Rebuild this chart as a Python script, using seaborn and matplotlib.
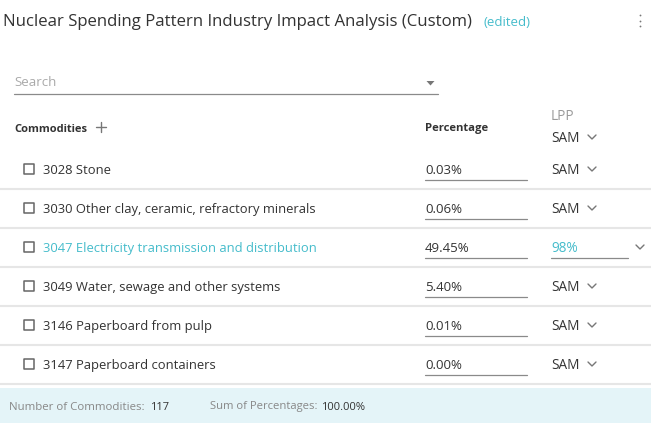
import seaborn as sns
import matplotlib.pyplot as plt
from matplotlib.patches import Rectangle

# table contents
commodities = [
    "3028 Stone",
    "3030 Other clay, ceramic, refractory minerals",
    "3047 Electricity transmission and distribution",
    "3049 Water, sewage and other systems",
    "3146 Paperboard from pulp",
    "3147 Paperboard containers",
]
percentages = [0.03, 0.06, 49.45, 5.40, 0.01, 0.00]
lpp_values = ["SAM", "SAM", "98%", "SAM", "SAM", "SAM"]
highlighted = [False, False, True, False, False, False]
n_commodities = 117
sum_percentages = 100.00

title = "Nuclear Spending Pattern Industry Impact Analysis (Custom)"

sns.set_theme(style="white")
plt.rcParams['font.family'] = ['Open Sans', 'DejaVu Sans']

TEAL = "#45bccb"
DARK = "#333333"
GREY = "#9a9a9a"
LINE = "#e6e6e6"

fig = plt.figure(figsize=(6.51, 4.23), dpi=100)
ax = fig.add_axes([0, 0, 1, 1])
ax.set_xlim(0, 651)
ax.set_ylim(423, 0)
ax.axis("off")

# header
ax.text(3, 22, title, fontsize=12.1, color=DARK, va="center")
ax.text(483, 22, "(edited)", fontsize=9.5, color=TEAL, va="center")
for yy in (15.5, 21, 26.5):
    ax.plot(640, yy, "o", ms=1.3, mew=0, color="#777777")

# search box
ax.text(14, 83, "Search", fontsize=9.6, color="#aaaaaa", va="center")
ax.plot([14, 438], [94.5, 94.5], color="#8a8a8a", lw=0.9)
ax.fill([426.5, 434.5, 430.5], [81, 81, 85.5], color="#777777", lw=0)

# column headers
ax.text(14, 129, "Commodities", fontsize=8.0, color=DARK, fontweight="bold", va="center")
ax.plot([96, 106], [127.5, 127.5], color="#777777", lw=1.0)
ax.plot([101, 101], [122.5, 132.5], color="#777777", lw=1.0)
ax.text(425, 129, "Percentage", fontsize=8.1, color=DARK, fontweight="bold", va="center")
ax.text(551, 116, "LPP", fontsize=9.8, color=GREY, va="center")
ax.text(551, 138, "SAM", fontsize=9.8, color=DARK, va="center")


def chevron(x, y, color="#777777"):
    ax.plot([x - 4, x, x + 4], [y - 2, y + 2, y - 2], color=color, lw=1.0)


chevron(592, 137)

row_top = 150
row_h = 39
for i, (name, pct, lpp, hi) in enumerate(zip(commodities, percentages, lpp_values, highlighted)):
    yc = row_top + row_h * i + 19
    col = TEAL if hi else DARK
    ax.add_patch(Rectangle((24, yc - 4.5), 10, 10, fill=False, ec="#666666", lw=1.1,
                           joinstyle="round"))
    ax.text(43, yc + 1.5, name, fontsize=9.4, color=col, va="center")
    ax.text(425, yc + 1.5, f"{pct:.2f}%", fontsize=9.5, color=DARK, va="center")
    ax.plot([425, 527], [yc + 11.5, yc + 11.5], color="#8a8a8a", lw=0.9)
    if hi:
        ax.text(551, yc + 1.5, lpp, fontsize=9.8, color=TEAL, va="center")
        ax.plot([551, 628], [yc + 11.5, yc + 11.5], color="#8a8a8a", lw=0.9)
        chevron(640, yc)
    else:
        ax.text(551, yc + 1.5, lpp, fontsize=9.8, color=DARK, va="center")
        chevron(592, yc)
    ax.plot([0, 651], [yc + 20.5, yc + 20.5], color=LINE, lw=1.5)

# footer
ax.add_patch(Rectangle((0, 388), 651, 35, color="#e4f4f8", lw=0))
ax.text(9, 407, "Number of Commodities:", fontsize=8.25, color="#888888", va="center")
ax.text(150, 407, f"{n_commodities}", fontsize=8.0, color=DARK, va="center")
ax.text(210, 407, "Sum of Percentages:", fontsize=8.1, color="#888888", va="center")
ax.text(321, 407, f"{sum_percentages:.2f}%", fontsize=8.0, color=DARK, va="center")

fig.savefig("out.png", dpi=100)
